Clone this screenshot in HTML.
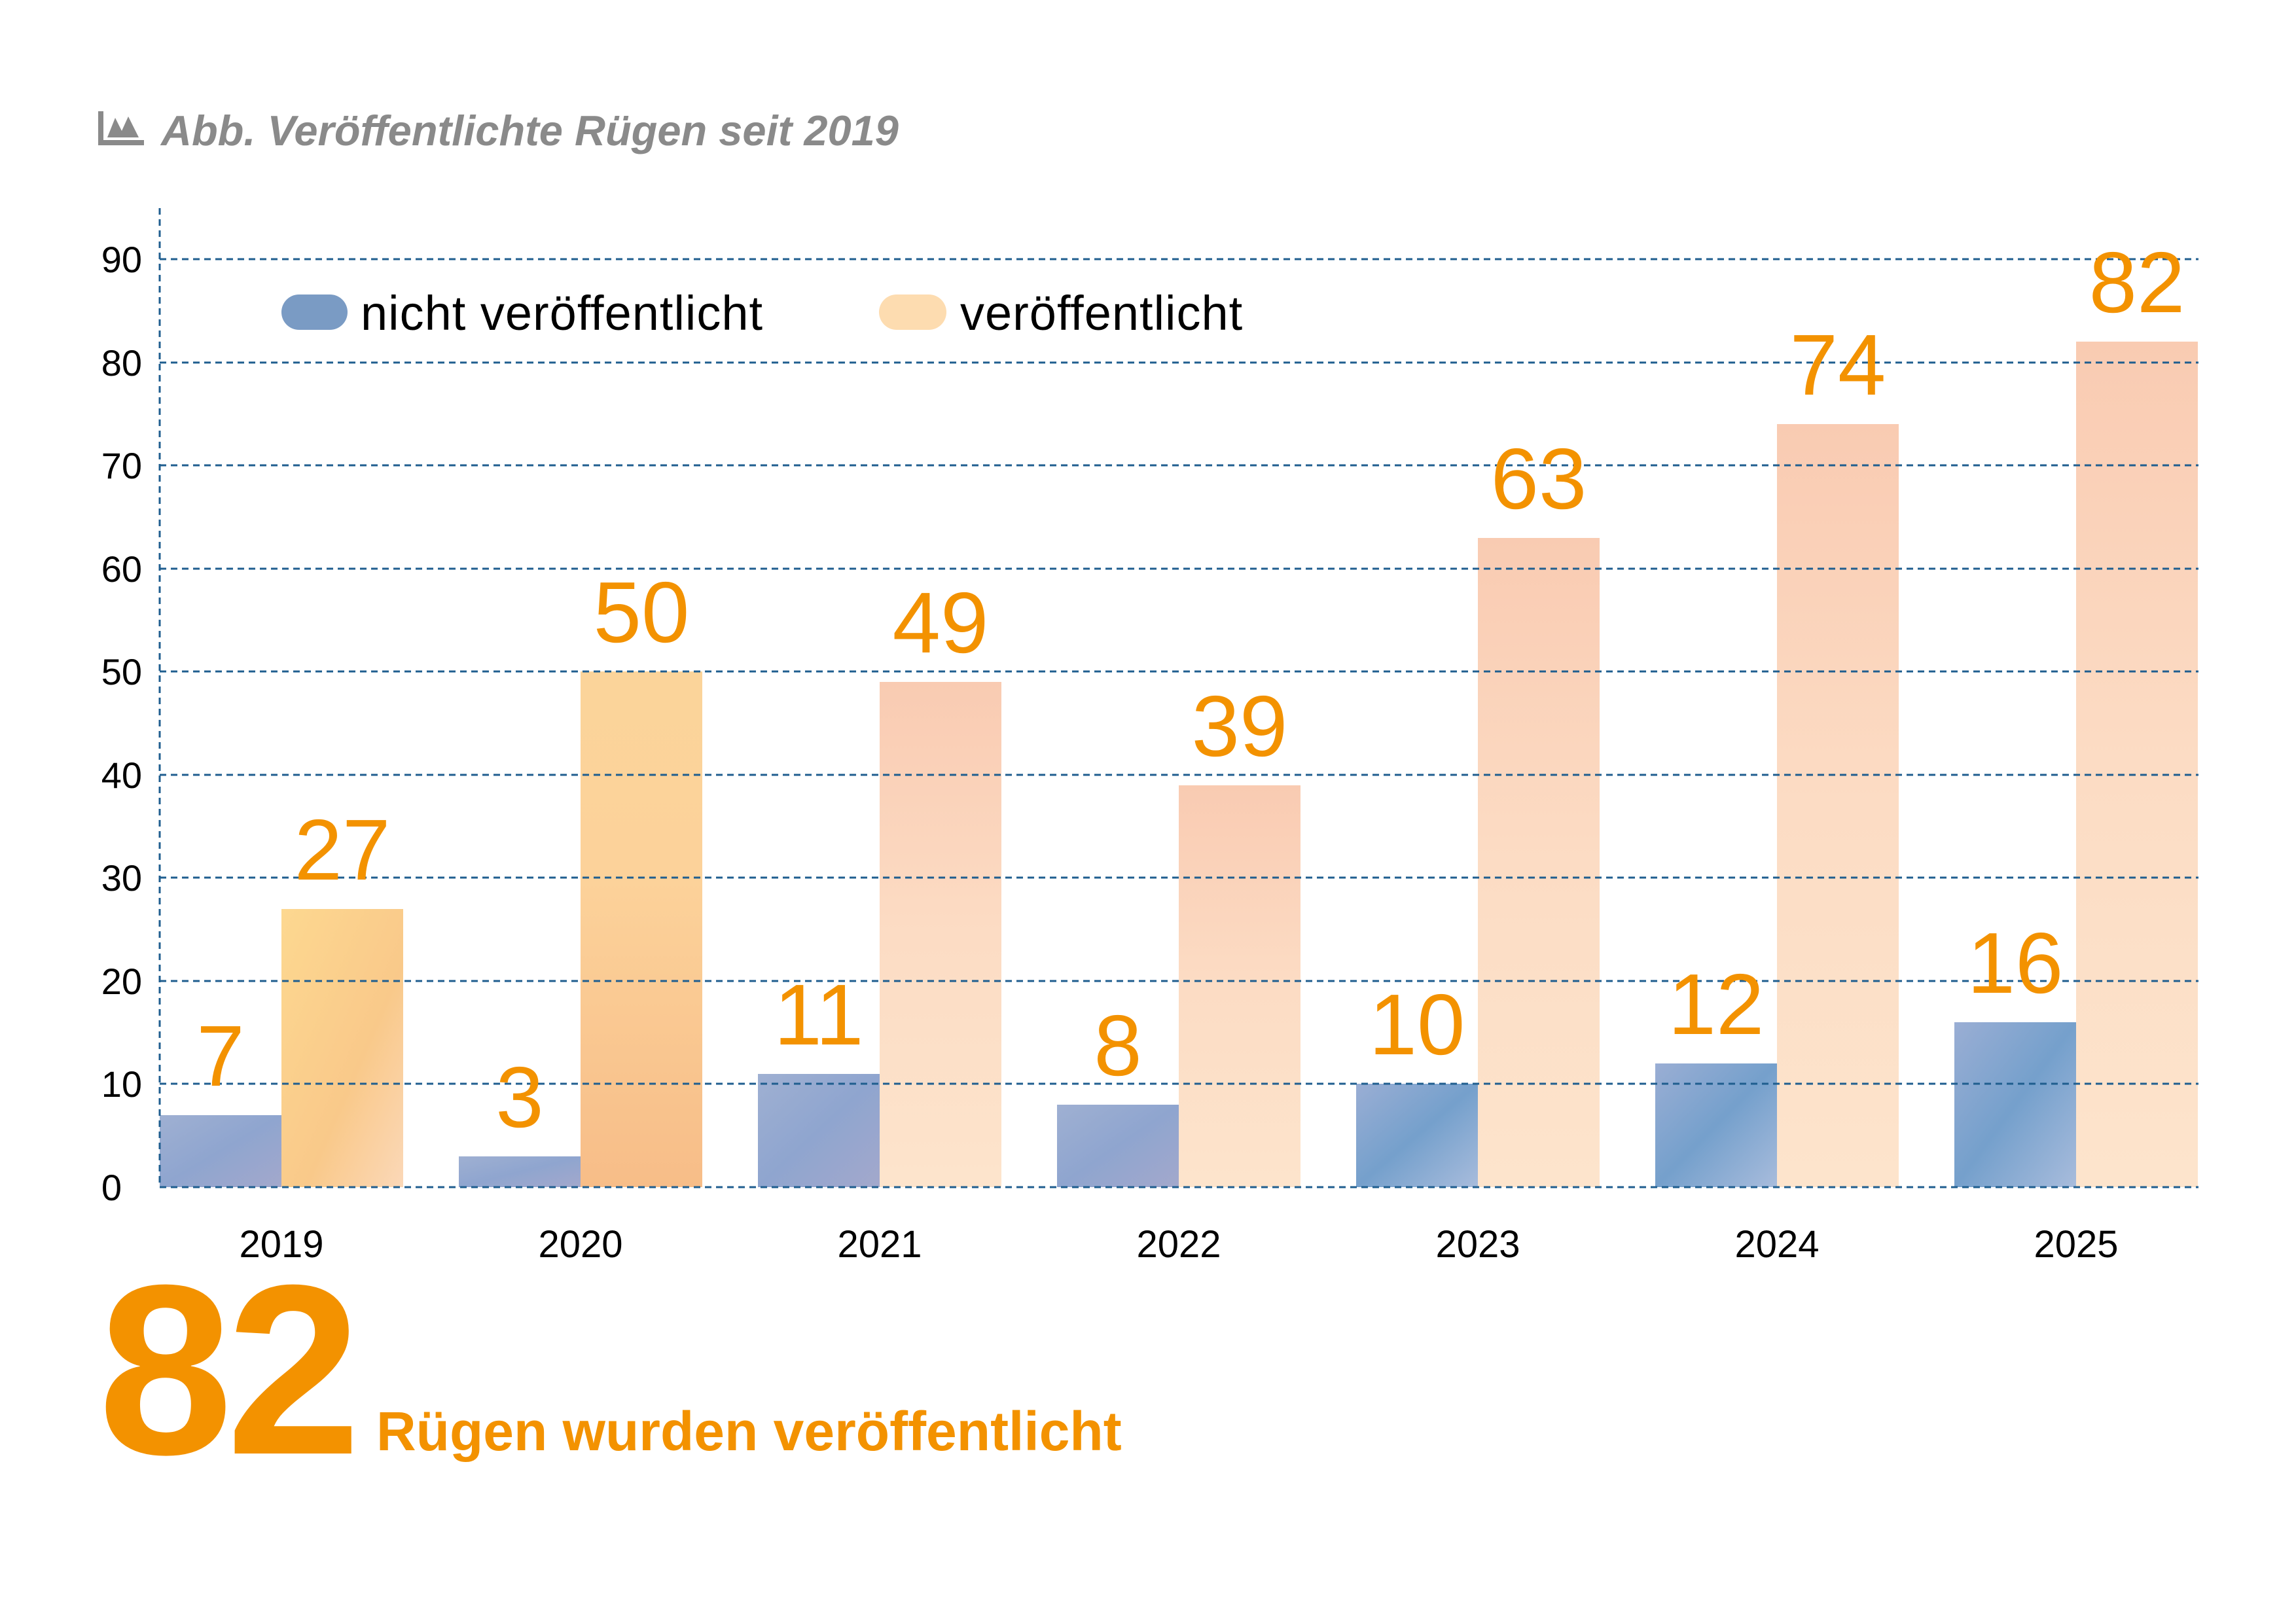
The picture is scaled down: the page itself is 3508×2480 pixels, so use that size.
<!DOCTYPE html>
<html><head><meta charset="utf-8"><style>
html,body{margin:0;padding:0;background:#fff}
svg{display:block}
text{font-family:"Liberation Sans Narrow","Liberation Sans",sans-serif}
</style></head><body>
<svg width="3508" height="2480" viewBox="0 0 3508 2480" xmlns="http://www.w3.org/2000/svg">
<defs>
<linearGradient id="b" x1="0" y1="0" x2="1" y2="1"><stop offset="0" stop-color="#9fb0d2"/><stop offset="0.5" stop-color="#8fa5cf"/><stop offset="1" stop-color="#a3a8cc"/></linearGradient>
<linearGradient id="b2" x1="0" y1="0" x2="1" y2="1"><stop offset="0" stop-color="#9aaed4"/><stop offset="0.5" stop-color="#75a0cc"/><stop offset="1" stop-color="#a8bcdc"/></linearGradient>
<linearGradient id="o1" x1="0" y1="0" x2="1" y2="1"><stop offset="0" stop-color="#fdd890"/><stop offset="0.6" stop-color="#f9c98a"/><stop offset="1" stop-color="#fbd8b8"/></linearGradient>
<linearGradient id="o2" x1="0" y1="0" x2="0" y2="1"><stop offset="0" stop-color="#fbd49a"/><stop offset="0.4" stop-color="#fcd29a"/><stop offset="1" stop-color="#f7bd88"/></linearGradient>
<linearGradient id="o3" x1="0" y1="0" x2="0" y2="1"><stop offset="0" stop-color="#f9cbb2"/><stop offset="0.5" stop-color="#fcdcc4"/><stop offset="1" stop-color="#fde4cc"/></linearGradient>
</defs>
<g fill="#8a8a8a">
<rect x="150" y="170" width="8" height="52"/><rect x="150" y="214" width="70" height="8"/>
<polygon points="164,210 176,180 186,200 196,178 212,210"/>
</g>
<text x="246" y="222" font-size="65" font-weight="bold" font-style="italic" fill="#8a8a8a">Abb. Veröffentlichte Rügen seit 2019</text>
<g>
<rect x="244" y="1704" width="186" height="110" fill="url(#b)"/><rect x="430" y="1389" width="186" height="425" fill="url(#o1)"/>
<rect x="701" y="1767" width="186" height="47" fill="url(#b)"/><rect x="887" y="1026" width="186" height="788" fill="url(#o2)"/>
<rect x="1158" y="1641" width="186" height="173" fill="url(#b)"/><rect x="1344" y="1042" width="186" height="772" fill="url(#o3)"/>
<rect x="1615" y="1688" width="186" height="126" fill="url(#b)"/><rect x="1801" y="1200" width="186" height="614" fill="url(#o3)"/>
<rect x="2072" y="1656" width="186" height="158" fill="url(#b2)"/><rect x="2258" y="822" width="186" height="992" fill="url(#o3)"/>
<rect x="2529" y="1625" width="186" height="189" fill="url(#b2)"/><rect x="2715" y="648" width="186" height="1166" fill="url(#o3)"/>
<rect x="2986" y="1562" width="186" height="252" fill="url(#b2)"/><rect x="3172" y="522" width="186" height="1292" fill="url(#o3)"/>
</g>
<g stroke="#1f5e8f" stroke-width="3" stroke-dasharray="10,7" fill="none">
<line x1="244" y1="1814" x2="3359" y2="1814"/><line x1="244" y1="1656" x2="3359" y2="1656"/>
<line x1="244" y1="1499" x2="3359" y2="1499"/><line x1="244" y1="1341" x2="3359" y2="1341"/>
<line x1="244" y1="1184" x2="3359" y2="1184"/><line x1="244" y1="1026" x2="3359" y2="1026"/>
<line x1="244" y1="869" x2="3359" y2="869"/><line x1="244" y1="711" x2="3359" y2="711"/>
<line x1="244" y1="554" x2="3359" y2="554"/><line x1="244" y1="396" x2="3359" y2="396"/>
<line x1="244" y1="318" x2="244" y2="1814"/>
</g>
<g font-size="56" fill="#000" text-anchor="end">
<text x="186" y="1834">0</text><text x="217" y="1676">10</text><text x="217" y="1519">20</text>
<text x="217" y="1361">30</text><text x="217" y="1204">40</text><text x="217" y="1046">50</text>
<text x="217" y="889">60</text><text x="217" y="731">70</text><text x="217" y="574">80</text><text x="217" y="416">90</text>
</g>
<g font-size="58" fill="#000" text-anchor="middle">
<text x="430" y="1921">2019</text><text x="887" y="1921">2020</text><text x="1344" y="1921">2021</text>
<text x="1801" y="1921">2022</text><text x="2258" y="1921">2023</text><text x="2715" y="1921">2024</text><text x="3172" y="1921">2025</text>
</g>
<g font-size="132" fill="#f39200" text-anchor="middle">
<text x="337" y="1659">7</text><text x="523" y="1344">27</text>
<text x="794" y="1722">3</text><text x="980" y="981">50</text>
<text x="1251" y="1596">11</text><text x="1437" y="997">49</text>
<text x="1708" y="1643">8</text><text x="1894" y="1155">39</text>
<text x="2165" y="1611">10</text><text x="2351" y="777">63</text>
<text x="2622" y="1580">12</text><text x="2808" y="603">74</text>
<text x="3079" y="1517">16</text><text x="3265" y="477">82</text>
</g>
<rect x="430" y="450" width="101" height="54" rx="27" fill="#7a9bc4"/>
<text x="551" y="504" font-size="74" fill="#000" letter-spacing="1">nicht veröffentlicht</text>
<rect x="1343" y="450" width="103" height="54" rx="27" fill="#fddcb0"/>
<text x="1467" y="504" font-size="74" fill="#000" letter-spacing="1">veröffentlicht</text>
<text x="150" y="2221" font-size="370" font-weight="bold" fill="#f39200" letter-spacing="-10">82</text>
<text x="575" y="2216" font-size="84" font-weight="bold" fill="#f39200">Rügen wurden veröffentlicht</text>
</svg>
</body></html>
